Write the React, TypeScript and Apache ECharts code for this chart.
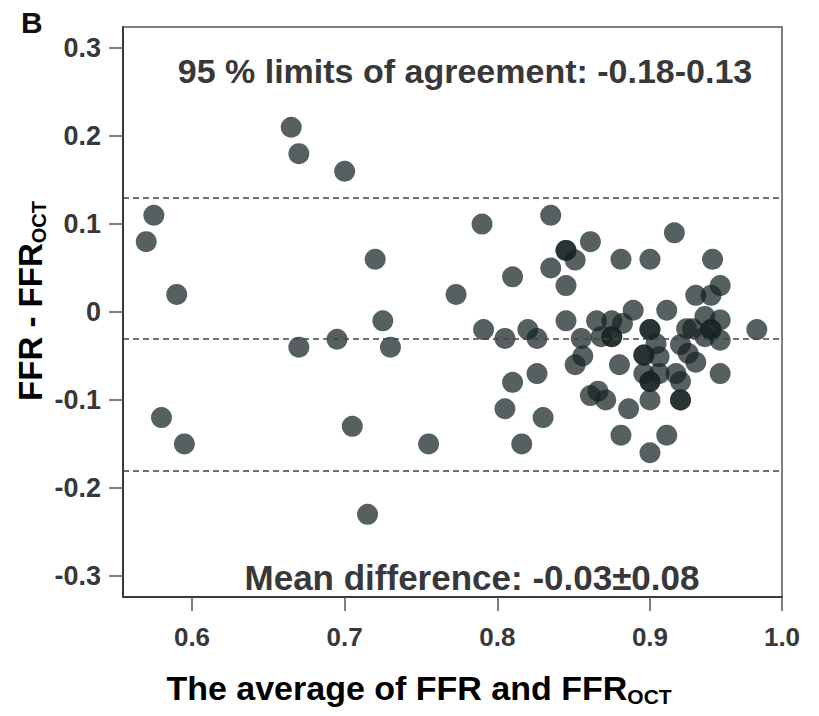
import React, { useEffect, useRef } from "react";
import * as echarts from "echarts";

// Bland-Altman data: [average of FFR and FFR_OCT, FFR - FFR_OCT]
const leftPoints: number[][] = [
  [0.570, 0.080], [0.575, 0.110], [0.590, 0.020], [0.580, -0.120], [0.595, -0.150],
  [0.665, 0.210], [0.670, 0.180], [0.700, 0.160], [0.720, 0.060], [0.725, -0.010],
  [0.670, -0.040], [0.695, -0.031], [0.730, -0.040], [0.705, -0.130], [0.715, -0.230],
  [0.755, -0.150], [0.773, 0.020],
];
const upperPoints: number[][] = [
  [0.790, 0.100], [0.835, 0.110], [0.845, 0.070], [0.845, 0.070], [0.851, 0.059],
  [0.861, 0.080], [0.810, 0.040], [0.835, 0.050], [0.845, 0.030], [0.881, 0.060],
  [0.900, 0.060], [0.916, 0.090], [0.941, 0.060], [0.946, 0.030], [0.940, 0.019],
  [0.930, 0.019],
];
const centralPoints: number[][] = [
  [0.791, -0.020], [0.805, -0.030], [0.820, -0.020], [0.826, -0.030], [0.845, -0.010],
  [0.855, -0.030], [0.865, -0.010], [0.868, -0.028], [0.875, -0.010], [0.875, -0.028],
  [0.875, -0.028], [0.882, -0.013], [0.889, 0.002], [0.911, 0.002], [0.900, -0.020],
  [0.900, -0.020], [0.904, -0.036], [0.896, -0.049], [0.896, -0.049], [0.906, -0.051],
  [0.920, -0.037], [0.925, -0.047], [0.930, -0.057], [0.924, -0.019], [0.936, -0.005],
  [0.928, -0.019], [0.940, -0.020], [0.940, -0.020], [0.946, -0.009], [0.936, -0.028],
  [0.946, -0.032], [0.970, -0.020],
];
const lowerPoints: number[][] = [
  [0.856, -0.050], [0.851, -0.060], [0.880, -0.060], [0.896, -0.070], [0.900, -0.079],
  [0.900, -0.079], [0.906, -0.070], [0.917, -0.070], [0.920, -0.079], [0.946, -0.070],
  [0.920, -0.100], [0.920, -0.100], [0.900, -0.100], [0.886, -0.110], [0.861, -0.095],
  [0.866, -0.090], [0.871, -0.100], [0.810, -0.080], [0.826, -0.070], [0.805, -0.110],
  [0.830, -0.120], [0.816, -0.150], [0.881, -0.140], [0.900, -0.160], [0.911, -0.140],
];

const meanDifference = -0.027;
const upperLimit = 0.127;
const lowerLimit = -0.181;

const xTickValues = [0.6, 0.7, 0.8, 0.9];
const xTickLabels = ["0.6", "0.7", "0.8", "0.9", "1.0"];
const yTickValues = [-0.3, -0.2, -0.1, 0, 0.1, 0.2, 0.3];
const yTickLabels = ["-0.3", "-0.2", "-0.1", "0", "0.1", "0.2", "0.3"];

const X_MIN = 0.5548;
const X_MAX = 0.9865;
const Y_MIN = -0.324;
const Y_MAX = 0.324;

const FONT = "'Liberation Sans', Arial, Helvetica, sans-serif";
const TEXT_COLOR = "#383838";

export default function App() {
  const ref = useRef<HTMLDivElement>(null);

  useEffect(() => {
    if (!ref.current) return;
    const chart = echarts.init(ref.current, null, { renderer: "svg" });
    const allPoints = [...leftPoints, ...upperPoints, ...centralPoints, ...lowerPoints];
    const xTicks = [...xTickValues, X_MAX];

    const subRich = (size: number) => ({
      m: { fontSize: size, fontWeight: "bold", fontFamily: FONT, color: TEXT_COLOR, lineHeight: size + 4 },
      s: {
        fontSize: Math.round(size * 0.62),
        fontWeight: "bold",
        fontFamily: FONT,
        color: TEXT_COLOR,
        verticalAlign: "bottom",
        lineHeight: Math.round(size * 0.62) + 3,
        padding: [18, 0, 0, 0],
      },
    });

    chart.setOption({
      animation: false,
      backgroundColor: "#ffffff",
      grid: {
        left: 123,
        right: 37,
        top: 27,
        bottom: 119,
        show: true,
        borderColor: "#555",
        borderWidth: 1.5,
      },
      xAxis: {
        type: "value",
        min: X_MIN,
        max: X_MAX,
        splitLine: { show: false },
        axisLine: { show: true, onZero: false, lineStyle: { color: "#3a3a3a", width: 2 } },
        axisTick: {
          show: true,
          length: 14,
          customValues: xTicks,
          lineStyle: { color: "#555", width: 1.5 },
        },
        axisLabel: {
          customValues: xTicks,
          margin: 27,
          fontSize: 26,
          fontWeight: "bold",
          fontFamily: FONT,
          color: TEXT_COLOR,
          formatter: (v: number) => {
            const i = xTicks.findIndex((t) => Math.abs(t - v) < 1e-6);
            return i >= 0 ? xTickLabels[i] : "";
          },
        },
      },
      yAxis: {
        type: "value",
        min: Y_MIN,
        max: Y_MAX,
        splitLine: { show: false },
        axisLine: { show: true, onZero: false, lineStyle: { color: "#3a3a3a", width: 2 } },
        axisTick: {
          show: true,
          length: 14,
          customValues: yTickValues,
          lineStyle: { color: "#555", width: 1.5 },
        },
        axisLabel: {
          customValues: yTickValues,
          margin: 22,
          fontSize: 27,
          fontWeight: "bold",
          fontFamily: FONT,
          color: TEXT_COLOR,
          formatter: (v: number) => {
            const i = yTickValues.findIndex((t) => Math.abs(t - v) < 1e-6);
            return i >= 0 ? yTickLabels[i] : "";
          },
        },
      },
      series: [
        {
          type: "scatter",
          data: allPoints,
          symbol: "circle",
          symbolSize: 21,
          itemStyle: { color: "rgb(22,35,35)", opacity: 0.72 },
          markLine: {
            silent: true,
            symbol: "none",
            label: { show: false },
            lineStyle: { color: "#444", width: 1.5, type: [6, 4] },
            data: [{ yAxis: upperLimit }, { yAxis: meanDifference }, { yAxis: lowerLimit }],
          },
          z: 3,
        },
      ],
      graphic: [
        {
          type: "text",
          x: 21,
          y: 22,
          style: {
            text: "B",
            fontSize: 30,
            fontWeight: "bold",
            fontFamily: FONT,
            fill: "#111",
            align: "left",
            verticalAlign: "middle",
          },
        },
        {
          type: "text",
          x: 465,
          y: 71,
          style: {
            text: "95 % limits of agreement: -0.18-0.13",
            fontSize: 34,
            fontWeight: "bold",
            fontFamily: FONT,
            fill: TEXT_COLOR,
            align: "center",
            verticalAlign: "middle",
          },
        },
        {
          type: "text",
          x: 472,
          y: 577,
          style: {
            text: "Mean difference: -0.03\u00b10.08",
            fontSize: 35,
            fontWeight: "bold",
            fontFamily: FONT,
            fill: TEXT_COLOR,
            align: "center",
            verticalAlign: "middle",
          },
        },
        {
          type: "text",
          x: 419,
          y: 688,
          style: {
            text: "{m|The average of FFR and FFR}{s|OCT}",
            rich: subRich(34),
            align: "center",
            verticalAlign: "middle",
          },
        },
        {
          type: "text",
          x: 30,
          y: 301,
          rotation: Math.PI / 2,
          style: {
            text: "{m|FFR - FFR}{s|OCT}",
            rich: subRich(33),
            align: "center",
            verticalAlign: "middle",
          },
        },
      ],
    });

    return () => chart.dispose();
  }, []);

  return (
    <div
      ref={ref}
      style={{ position: "fixed", left: 0, top: 0, width: 819, height: 716 }}
    />
  );
}
